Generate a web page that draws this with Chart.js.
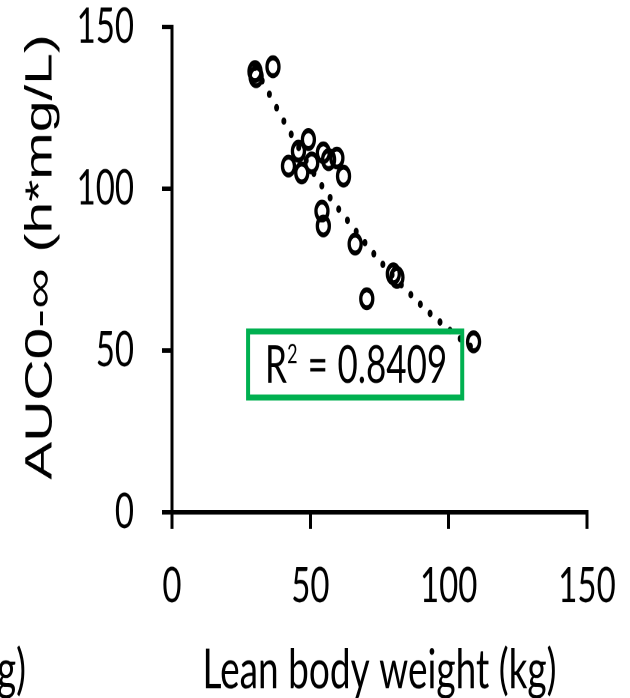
<!DOCTYPE html>
<html>
<head>
<meta charset="utf-8">
<script src="https://cdn.jsdelivr.net/npm/chart.js@4.4.1/dist/chart.umd.min.js"></script>
<style>
  html, body { margin: 0; padding: 0; background: #fff; }
  #frame { position: relative; width: 630px; height: 698px; overflow: hidden; }
  /* the panel is drawn at 630x466 and stretched to the full 698px height */
  #stage { position: absolute; left: 0; top: 0; width: 630px; height: 466px; transform: scaleY(1.4979); transform-origin: 0 0; }
</style>
</head>
<body>
<div id="frame"><div id="stage"><canvas id="c" width="630" height="466"></canvas></div></div>
<script>
// Lean body weight (kg) and AUC0-inf (h*mg/L) per subject
const leanBodyWeight = [30.0, 30.4, 36.5, 42.1, 45.7, 46.9, 49.3, 50.5, 54.7, 56.6, 59.6, 62.0, 54.2, 54.7, 66.2, 70.4, 80.0, 81.3, 109.0];
const aucValues      = [136.2, 134.6, 137.7, 107.0, 111.6, 104.9, 115.2, 108.0, 111.1, 109.0, 109.5, 103.9, 93.1, 88.5, 82.9, 66.0, 73.7, 72.6, 52.7];

// exponential trendline
const trendWeight = [30, 43.3, 54.1, 66.2, 75.0, 90.6, 101.2, 109];
const trendAuc    = [137.5, 116.5, 101.0, 87.2, 77.8, 63.6, 55.7, 50.5];

const xTickValues = [0, 50, 100, 150];
const yTickValues = [0, 50, 100, 150];
const rSquared = '0.8409';
const yAxisTitle = 'AUC0-\u221E (h*mg/L)';
const xAxisTitle = 'Lean body weight (kg)';

const scatterPoints = leanBodyWeight.map((x, i) => ({ x, y: aucValues[i] }));
const trendPoints = trendWeight.map((x, i) => ({ x, y: trendAuc[i] }));

const TICK_FONT = { family: 'Lato', size: 33, lineHeight: 1 };

// y-axis title, R² text box and the clipped axis title of the neighbouring panel
const annotations = {
  id: 'annotations',
  afterDatasetsDraw(chart) {
    const { ctx, scales: { x, y } } = chart;
    ctx.save();

    // rotated y-axis title
    ctx.save();
    ctx.translate(41, (y.top + y.bottom) / 2 - 8.5);
    ctx.rotate(-Math.PI / 2);
    ctx.font = "38px 'Liberation Sans', Arial, sans-serif";
    ctx.fillStyle = '#000';
    ctx.textAlign = 'center';
    ctx.textBaseline = 'middle';
    ctx.fillText(yAxisTitle, 0, 0);
    ctx.restore();

    // green framed box
    const left = x.getPixelForValue(27.5), right = x.getPixelForValue(104.9);
    const top = y.getPixelForValue(55.9), bottom = y.getPixelForValue(35.5);
    ctx.strokeStyle = '#00b050';
    ctx.lineWidth = 4;
    ctx.strokeRect(left, top, right - left, bottom - top);

    ctx.fillStyle = '#000';
    ctx.textBaseline = 'alphabetic';
    ctx.textAlign = 'left';
    const base = y.getPixelForValue(40.0);
    ctx.font = '35px Lato';
    ctx.fillText('R', x.getPixelForValue(33.6), base);
    ctx.fillText('=', x.getPixelForValue(49.0), base);
    ctx.fillText(rSquared, x.getPixelForValue(59.8), base);
    ctx.font = '18px Lato';
    ctx.fillText('2', x.getPixelForValue(41.6), y.getPixelForValue(46.1));

    // right end of the previous panel's x-axis title
    ctx.font = '37px Lato';
    ctx.textAlign = 'right';
    ctx.textBaseline = 'middle';
    ctx.fillText(xAxisTitle, 26, x.bottom - 18.5);
    ctx.restore();
  }
};

new Chart(document.getElementById('c'), {
  type: 'scatter',
  data: {
    datasets: [
      {
        label: 'AUC',
        data: scatterPoints,
        pointStyle: 'circle',
        pointRadius: 6,
        pointHoverRadius: 6,
        pointBorderWidth: 3.3,
        borderColor: '#000',
        backgroundColor: 'rgba(0,0,0,0)'
      },
      {
        label: 'Expon. trend',
        data: trendPoints,
        showLine: true,
        pointRadius: 0,
        borderColor: '#000',
        borderWidth: 5,
        borderDash: [0, 11.5],
        borderCapStyle: 'round',
        cubicInterpolationMode: 'monotone'
      }
    ]
  },
  options: {
    responsive: false,
    animation: false,
    devicePixelRatio: 2,
    layout: { padding: { left: 0, right: 43, top: 18, bottom: 0 } },
    plugins: { legend: { display: false }, tooltip: { enabled: false } },
    scales: {
      x: {
        type: 'linear',
        min: 0, max: 150,
        afterBuildTicks: (s) => { s.ticks = xTickValues.map(v => ({ value: v })); },
        afterFit: (s) => { s.height = 124; s.paddingLeft = 0; s.paddingRight = 0; },
        border: { display: true, color: '#000', width: 3 },
        grid: { display: true, drawOnChartArea: false, drawTicks: true, tickLength: 11, color: '#000', lineWidth: 3 },
        ticks: { color: '#000', font: TICK_FONT, padding: 22, maxRotation: 0 },
        title: {
          display: true,
          text: xAxisTitle,
          color: '#000',
          font: { family: 'Lato', size: 37, lineHeight: 1 },
          padding: { top: 0, bottom: 0 }
        }
      },
      y: {
        type: 'linear',
        min: 0, max: 150,
        afterBuildTicks: (s) => { s.ticks = yTickValues.map(v => ({ value: v })); },
        afterFit: (s) => { s.width = 172; s.paddingTop = 0; s.paddingBottom = 0; },
        border: { display: true, color: '#000', width: 3 },
        grid: { display: true, drawOnChartArea: false, drawTicks: true, tickLength: 10, color: '#000', lineWidth: 3 },
        ticks: { color: '#000', font: TICK_FONT, padding: 28 },
        title: { display: false }
      }
    }
  },
  plugins: [annotations]
});
</script>
</body>
</html>
